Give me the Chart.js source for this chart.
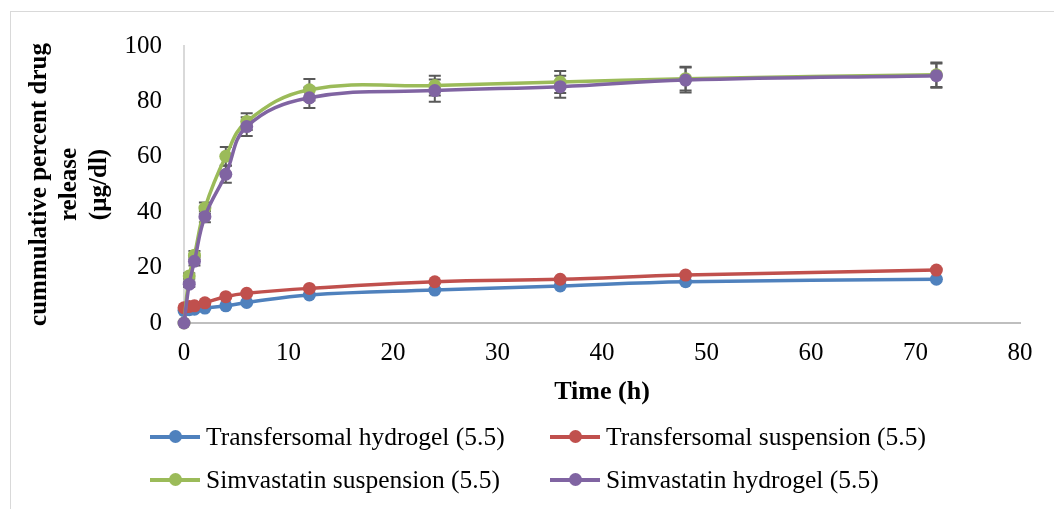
<!DOCTYPE html>
<html>
<head>
  <title>Cumulative drug release</title>
  <script src="https://cdn.jsdelivr.net/npm/chart.js"></script>
  <style>
    body { margin: 0; background: #fff; overflow: hidden; }
    #wrap { position: relative; width: 1054px; height: 509px; }
    #frame { position: absolute; left: 10px; top: 11px; width: 1100px; height: 600px; border: 1px solid #d9d9d9; }
    #legend { position: absolute; left: 0; top: 0; font-family: "Liberation Serif", serif; font-size: 25.5px; color: #000; }
    .item { position: absolute; display: flex; align-items: center; white-space: nowrap; }
    .mark { position: relative; width: 50px; height: 14px; margin-right: 6px; }
    .mark .ln { position: absolute; left: 0; right: 0; top: 5px; height: 4px; }
    .mark .dt { position: absolute; left: 19px; top: 0; width: 13px; height: 13px; border-radius: 50%; }
  </style>
</head>
<body>
  <div id="wrap">
    <div id="frame"></div>
    <canvas id="releaseChart" width="1054" height="509"></canvas>
    <div id="legend"></div>
  </div>

  <script>
    const timeHours = [0, 0.5, 1, 2, 4, 6, 12, 24, 36, 48, 72];

    const transHydrogel = [4.5, 4.8, 5.0, 5.4, 6.2, 7.4, 10.1, 11.9, 13.4, 14.9, 15.8];
    const transSuspension = [5.5, 6.0, 6.2, 7.3, 9.5, 10.7, 12.5, 14.9, 15.8, 17.3, 19.1];
    const simvaSuspension = [0, 17, 24.5, 41.5, 60.2, 72.7, 84.2, 85.7, 87.0, 88.2, 89.6];
    const simvaHydrogel = [0, 14, 22.3, 38.4, 53.7, 70.9, 81.3, 83.9, 85.3, 87.7, 89.3];

    const simvaSuspensionErr = [0, 1, 1.5, 2, 3.3, 3.0, 3.9, 3.6, 4.0, 4.3, 4.4];
    const simvaHydrogelErr = [0, 1, 1.5, 2, 3.1, 3.4, 3.7, 4.0, 4.0, 4.5, 4.4];

    const seriesNames = [
      'Transfersomal hydrogel (5.5)',
      'Transfersomal suspension (5.5)',
      'Simvastatin suspension (5.5)',
      'Simvastatin hydrogel (5.5)'
    ];
    const seriesColors = ['#4f81bd', '#c0504d', '#9bbb59', '#8064a2'];
    const seriesValues = [transHydrogel, transSuspension, simvaSuspension, simvaHydrogel];
    const seriesErrors = [null, null, simvaSuspensionErr, simvaHydrogelErr];

    const xTicks = [0, 10, 20, 30, 40, 50, 60, 70, 80];
    const yTicks = [0, 20, 40, 60, 80, 100];

    // error bars go under the markers so the dots hide the middle part
    const errorBars = {
      id: 'errorBars',
      beforeDatasetsDraw(chart) {
        const ctx = chart.ctx;
        const xs = chart.scales.x, ys = chart.scales.y;
        ctx.save();
        ctx.strokeStyle = '#595959';
        ctx.lineWidth = 2;
        chart.data.datasets.forEach(ds => {
          if (!ds.errors) return;
          ds.data.forEach((p, i) => {
            const e = ds.errors[i];
            if (!e) return;
            const px = xs.getPixelForValue(p.x);
            const top = ys.getPixelForValue(p.y + e);
            const bot = ys.getPixelForValue(p.y - e);
            ctx.beginPath();
            ctx.moveTo(px, top); ctx.lineTo(px, bot);
            ctx.moveTo(px - 6, top); ctx.lineTo(px + 6, top);
            ctx.moveTo(px - 6, bot); ctx.lineTo(px + 6, bot);
            ctx.stroke();
          });
        });
        ctx.restore();
      }
    };

    const datasets = seriesNames.map((name, s) => ({
      label: name,
      data: timeHours.map((t, i) => ({ x: t, y: seriesValues[s][i] })),
      errors: seriesErrors[s],
      borderColor: seriesColors[s],
      backgroundColor: seriesColors[s],
      pointBackgroundColor: seriesColors[s],
      pointBorderWidth: 0,
      pointRadius: 6.5,
      borderWidth: 3.5,
      tension: 0.4,
      clip: false,
      order: 3 - s
    }));

    const tickFont = { family: 'Liberation Serif', size: 25 };

    new Chart(document.getElementById('releaseChart'), {
      type: 'line',
      data: { datasets: datasets },
      plugins: [errorBars],
      options: {
        responsive: false,
        animation: false,
        layout: { padding: { left: 10, top: 46, right: 34, bottom: 96 } },
        plugins: {
          legend: { display: false },
          tooltip: { enabled: false }
        },
        scales: {
          x: {
            type: 'linear',
            min: 0,
            max: 80,
            afterBuildTicks: s => { s.ticks = xTicks.map(v => ({ value: v })); },
            afterFit: s => { s.height = 90; },
            grid: { display: false, drawTicks: false },
            border: { color: '#bfbfbf', width: 2 },
            ticks: { font: tickFont, color: '#000', padding: 15, maxRotation: 0 },
            title: {
              display: true,
              text: 'Time (h)',
              color: '#000',
              font: { family: 'Liberation Serif', size: 26, weight: 'bold' },
              padding: { top: 0, bottom: 5 }
            }
          },
          y: {
            min: 0,
            max: 100,
            afterBuildTicks: s => { s.ticks = yTicks.map(v => ({ value: v })); },
            afterFit: s => { s.width = 174; },
            grid: { display: false, drawTicks: false },
            border: { color: '#d9d9d9', width: 2 },
            ticks: { font: tickFont, color: '#000', padding: 22 },
            title: {
              display: true,
              text: ['cummulative percent drug', 'release', '(µg/dl)'],
              color: '#000',
              font: { family: 'Liberation Serif', size: 25, weight: 'bold', lineHeight: 1.2 },
              padding: { top: 15, bottom: 0 }
            }
          }
        }
      }
    });

    // legend laid out as a 2x2 grid like the original
    const legendPos = [[150, 437], [550, 437], [150, 480], [550, 480]];
    const legend = document.getElementById('legend');
    seriesNames.forEach((name, s) => {
      const item = document.createElement('div');
      item.className = 'item';
      item.style.left = legendPos[s][0] + 'px';
      item.style.top = (legendPos[s][1] - 15) + 'px';
      item.style.height = '30px';
      item.innerHTML = '<span class="mark"><span class="ln" style="background:' + seriesColors[s] +
        '"></span><span class="dt" style="background:' + seriesColors[s] + '"></span></span>' +
        '<span>' + name + '</span>';
      legend.appendChild(item);
    });
  </script>
</body>
</html>
